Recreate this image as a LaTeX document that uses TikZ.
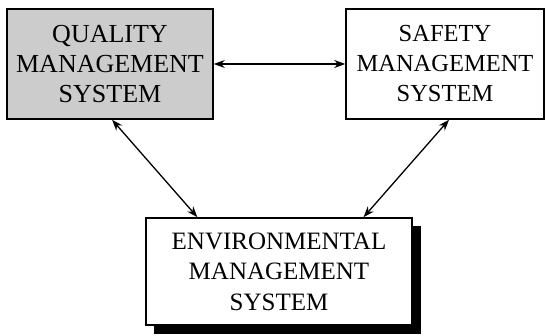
\documentclass[tikz,border=0pt]{standalone}
\usepackage{fontspec}
\setmainfont{Liberation Serif}
\usetikzlibrary{calc,arrows.meta,patterns}
\begin{document}
\begin{tikzpicture}[x=1pt,y=1pt,
  sysbox/.style={draw=black,line width=1.6pt,inner sep=0pt,align=center,
    font=\fontsize{25}{30.5}\selectfont},
  link/.style={line width=1.3pt,{Stealth[length=11pt,width=8pt]}-{Stealth[length=11pt,width=8pt]}}]
\useasboundingbox (0,0) rectangle (547,336);
\node[sysbox,fill=black!20,minimum width=206pt,minimum height=110pt,
  font=\fontsize{26}{30}\selectfont] (q) at (110,272)
  {QUALITY\\MANAGEMENT\\SYSTEM};
\node[sysbox,minimum width=198pt,minimum height=110pt,
  font=\fontsize{24.5}{30}\selectfont] (s) at (445,272)
  {SAFETY\\MANAGEMENT\\SYSTEM};
% shadow of the environmental box
\fill[black] (154,2) rectangle (421,110);
\node[sysbox,fill=white,minimum width=266pt,minimum height=107pt] (e) at (279,64.5)
  {ENVIRONMENTAL\\MANAGEMENT\\SYSTEM};
\draw[link] (q.east) -- (s.west);
\draw[link] ($(q.south west)!0.51!(q.south east)$) -- ($(e.north west)!0.195!(e.north east)$);
\draw[link] ($(s.south west)!0.52!(s.south east)$) -- ($(e.north west)!0.816!(e.north east)$);
\end{tikzpicture}
\end{document}
